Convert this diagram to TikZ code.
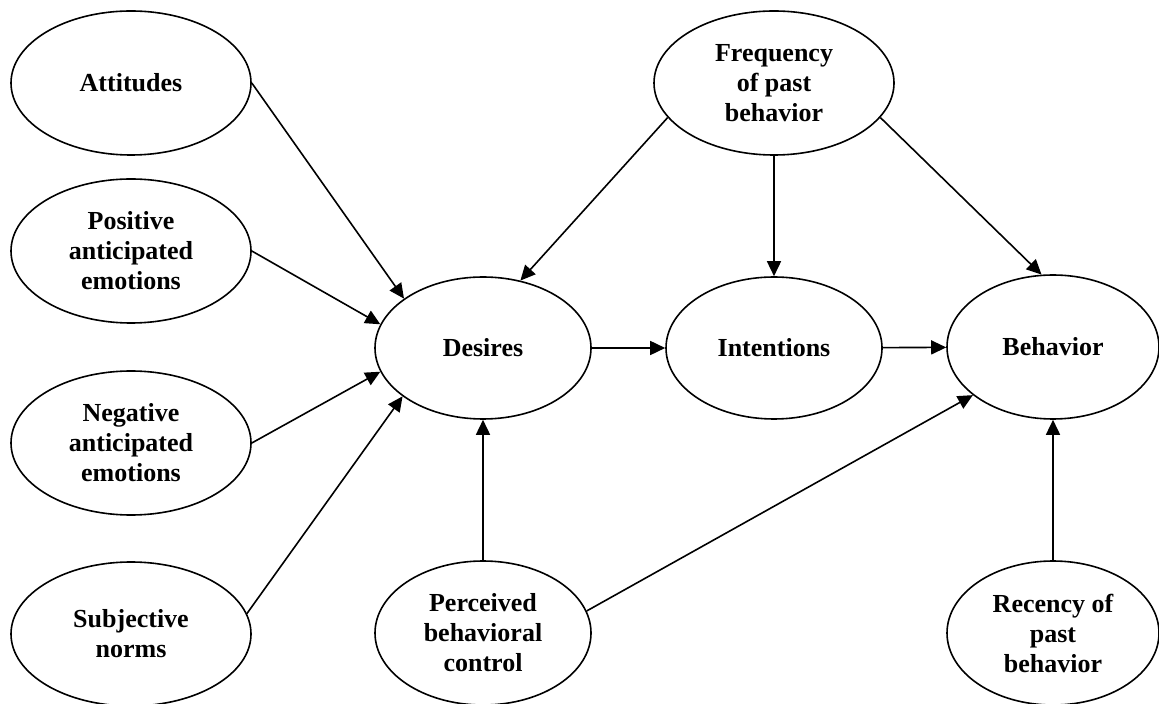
\documentclass[tikz,border=0pt]{standalone}
\usepackage{fontspec}
\setmainfont{Liberation Serif}
\usetikzlibrary{arrows.meta,shapes.geometric}

\begin{document}
\begin{tikzpicture}[
    x=0.5pt, y=-0.5pt,
    font=\bfseries\fontsize{13}{15}\selectfont,
    flow/.style={draw=black, line width=0.8pt, -{Triangle[length=7.5pt, width=7pt]}},
    latent/.style={
        ellipse,
        draw=black,
        line width=0.8pt,
        minimum width=120pt,
        minimum height=72pt,
        inner sep=0pt,
        align=center
    },
    core/.style={
        latent,
        minimum width=108pt,
        minimum height=71pt
    }
]
\useasboundingbox (0,0) rectangle (1159,704);

\node[latent] (att) at (131,83) {Attitudes};
\node[latent] (posemo) at (131,251) {Positive\\anticipated\\emotions};
\node[latent] (negemo) at (131,443) {Negative\\anticipated\\emotions};
\node[latent] (subnorm) at (131,634) {Subjective\\norms};

\node[latent] (freq) at (774,83) {Frequency\\of past\\behavior};

\node[core] (desires) at (483,348) {Desires};
\node[core] (intent) at (774,348) {Intentions};
\node[core, minimum width=106pt, minimum height=72pt] (behav) at (1053,347) {Behavior};

\node[core, minimum height=72pt] (pbc) at (483,633) {Perceived\\behavioral\\control};
\node[core, minimum width=106pt, minimum height=72pt] (recency) at (1053,633) {Recency of\\past\\behavior};

\draw[flow] (att.east) -- (desires.148);
\draw[flow] (posemo.east) -- (desires.167);
\draw[flow] (negemo.east) -- (desires.193);
\draw[flow] (subnorm.10) -- (desires.211);

\draw[flow] (freq.198) -- (desires.61);
\draw[flow] (freq.south) -- (intent.north);
\draw[flow] (freq.342) -- (behav.99);

\draw[flow] (desires) -- (intent);
\draw[flow] (intent) -- (behav);

\draw[flow] (pbc) -- (desires);
\draw[flow] (pbc.12) -- (behav.211);
\draw[flow] (recency) -- (behav);

\end{tikzpicture}
\end{document}
